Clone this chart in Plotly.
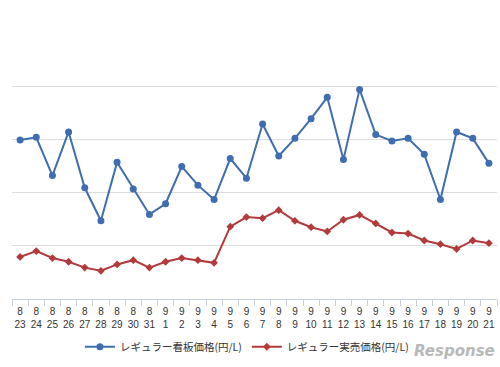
import plotly.graph_objects as go

months = ["8"]*9 + ["9"]*21
days = [23,24,25,26,27,28,29,30,31] + list(range(1,22))
categories = [f"{m}<br>{d}" for m, d in zip(months, days)]

kanban = [157.99,158.04,157.32,158.14,157.09,156.47,157.57,157.07,156.59,156.79,
          157.49,157.14,156.87,157.64,157.27,158.29,157.69,158.02,158.39,158.79,
          157.62,158.94,158.09,157.97,158.02,157.72,156.87,158.14,158.02,157.55]
jitsubai = [155.79,155.90,155.77,155.70,155.59,155.53,155.65,155.73,155.59,155.70,
            155.77,155.73,155.68,156.36,156.54,156.52,156.67,156.47,156.35,156.27,
            156.49,156.58,156.42,156.25,156.23,156.10,156.03,155.94,156.10,156.05]

blue = "#3e6db0"
red = "#b23a3a"

fig = go.Figure()
fig.add_trace(go.Scatter(x=categories, y=kanban, mode="lines+markers",
                         name="レギュラー看板価格(円/L)",
                         line=dict(color=blue, width=2),
                         marker=dict(color=blue, size=7, symbol="circle")))
fig.add_trace(go.Scatter(x=categories, y=jitsubai, mode="lines+markers",
                         name="レギュラー実売価格(円/L)",
                         line=dict(color=red, width=2),
                         marker=dict(color=red, size=6, symbol="diamond")))

fig.update_layout(
    width=500, height=367,
    margin=dict(l=12, r=3, t=33, b=68),
    paper_bgcolor="white", plot_bgcolor="white",
    font=dict(family="Noto Sans CJK JP, Noto Sans, sans-serif", size=11, color="#333333"),
    showlegend=True,
    legend=dict(orientation="h", x=0.14, xanchor="left", y=-0.125, yanchor="top",
                font=dict(size=10.5, color="#333333"), itemwidth=30, tracegroupgap=0),
    xaxis=dict(
        type="category", range=[-0.5, 29.5], tickson="boundaries", tickangle=0,
        showgrid=False, showline=True, linecolor="#c8d0dc", linewidth=1,
        ticks="outside", ticklen=6, tickcolor="#c8d0dc", ticklabelstandoff=3,
        tickfont=dict(size=10, color="#333333", family="Liberation Sans, Arial, sans-serif"),
        zeroline=False,
    ),
    yaxis=dict(
        range=[155, 160], dtick=1, showticklabels=False,
        showgrid=True, gridcolor="#dcdcdc", gridwidth=1, zeroline=False, showline=False,
    ),
)

fig.add_annotation(text="<i><b>Response</b></i>", xref="paper", yref="paper",
                   x=1.0, y=-0.155, xanchor="right", yanchor="top", showarrow=False,
                   font=dict(size=15, color="#b8b8b8", family="DejaVu Sans"))

fig.write_html("out.html")
